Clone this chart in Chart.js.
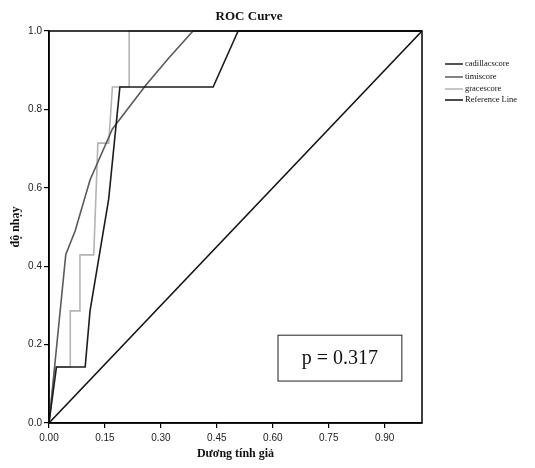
<!DOCTYPE html>
<html>
<head>
<meta charset="utf-8">
<script src="https://cdn.jsdelivr.net/npm/chart.js@4.4.1/dist/chart.umd.min.js"></script>
<style>
  body { margin: 0; background: #fff; }
</style>
</head>
<body>
<canvas id="roc" width="535" height="468"></canvas>
<script>
// ROC points (false positive rate, sensitivity)
const cadillacFpr = [0, 0.02, 0.097, 0.11, 0.16, 0.19, 0.44, 0.507, 1];
const cadillacTpr = [0, 0.143, 0.143, 0.286, 0.571, 0.857, 0.857, 1, 1];

const timiFpr = [0, 0.045, 0.07, 0.11, 0.17, 0.26, 0.32, 0.386, 1];
const timiTpr = [0, 0.43, 0.49, 0.62, 0.75, 0.862, 0.93, 1, 1];

const graceFpr = [0, 0.016, 0.057, 0.057, 0.083, 0.083, 0.12, 0.131, 0.16, 0.17, 0.215, 0.215, 1];
const graceTpr = [0, 0.143, 0.143, 0.286, 0.286, 0.429, 0.429, 0.714, 0.714, 0.857, 0.857, 1, 1];

const refFpr = [0, 1];
const refTpr = [0, 1];

const seriesNames = ["cadillacscore", "timiscore", "gracescore", "Reference Line"];
const xTicks = [0, 0.15, 0.30, 0.45, 0.60, 0.75, 0.90];
const yTicks = [0, 0.2, 0.4, 0.6, 0.8, 1.0];
const pValueText = "p = 0.317";

const toPoints = (xs, ys) => xs.map((x, i) => ({ x: x, y: ys[i] }));

const lineSet = (label, xs, ys, color) => ({
  label: label,
  data: toPoints(xs, ys),
  showLine: true,
  borderColor: color,
  backgroundColor: color,
  borderWidth: 1.6,
  pointRadius: 0,
  tension: 0,
  clip: false,
});

// frame, title, legend and the p value box
const extras = {
  id: "extras",
  afterDatasetsDraw(chart) {
    const { ctx, chartArea } = chart;
    const xs = chart.scales.x;
    const ys = chart.scales.y;
    ctx.save();

    ctx.strokeStyle = "#000";
    ctx.lineWidth = 1.5;
    ctx.strokeRect(chartArea.left, chartArea.top, chartArea.right - chartArea.left, chartArea.bottom - chartArea.top);

    ctx.fillStyle = "#111";
    ctx.font = "bold 13px 'Liberation Serif', serif";
    ctx.textAlign = "center";
    ctx.textBaseline = "middle";
    ctx.fillText("ROC Curve", 249, 17);

    // legend
    ctx.font = "8.5px 'Liberation Serif', serif";
    ctx.textAlign = "left";
    const legendY = [64, 77, 89, 100];
    chart.data.datasets.forEach((ds, i) => {
      ctx.strokeStyle = ds.borderColor;
      ctx.lineWidth = 1.5;
      ctx.beginPath();
      ctx.moveTo(445, legendY[i]);
      ctx.lineTo(463, legendY[i]);
      ctx.stroke();
      ctx.fillStyle = "#111";
      ctx.fillText(ds.label, 465, legendY[i]);
    });

    // p value box
    const bx0 = xs.getPixelForValue(0.614);
    const bx1 = xs.getPixelForValue(0.946);
    const by0 = ys.getPixelForValue(0.224);
    const by1 = ys.getPixelForValue(0.107);
    ctx.fillStyle = "#fff";
    ctx.fillRect(bx0, by0, bx1 - bx0, by1 - by0);
    ctx.strokeStyle = "#222";
    ctx.lineWidth = 1;
    ctx.strokeRect(bx0, by0, bx1 - bx0, by1 - by0);
    ctx.fillStyle = "#111";
    ctx.font = "20px 'Liberation Serif', serif";
    ctx.textAlign = "center";
    ctx.fillText(pValueText, (bx0 + bx1) / 2, (by0 + by1) / 2 + 1);

    ctx.restore();
  },
};

new Chart(document.getElementById("roc"), {
  type: "scatter",
  data: {
    datasets: [
      lineSet(seriesNames[0], cadillacFpr, cadillacTpr, "#1c1c1c"),
      lineSet(seriesNames[1], timiFpr, timiTpr, "#5a5a5a"),
      lineSet(seriesNames[2], graceFpr, graceTpr, "#b4b4b4"),
      lineSet(seriesNames[3], refFpr, refTpr, "#111111"),
    ],
  },
  options: {
    responsive: false,
    animation: false,
    layout: { padding: { top: 31, right: 113, left: 0, bottom: 0 } },
    plugins: {
      legend: { display: false },
      tooltip: { enabled: false },
    },
    scales: {
      x: {
        type: "linear",
        min: 0,
        max: 1,
        afterBuildTicks: (scale) => { scale.ticks = xTicks.map((v) => ({ value: v })); },
        afterFit: (scale) => { scale.height = 45; },
        grid: { drawOnChartArea: false, drawTicks: true, tickLength: 5, color: "#000", lineWidth: 1.2 },
        border: { display: true, color: "#000", width: 1.5 },
        ticks: {
          padding: 4,
          color: "#222",
          font: { family: "'Liberation Sans', Arial, sans-serif", size: 10 },
          callback: (v) => Number(v).toFixed(2),
        },
        title: {
          display: true,
          text: "Dương tính giả",
          color: "#111",
          font: { family: "'Liberation Serif', serif", size: 12, weight: "bold" },
          padding: { top: 2, bottom: 7 },
        },
      },
      y: {
        type: "linear",
        min: 0,
        max: 1,
        afterBuildTicks: (scale) => { scale.ticks = yTicks.map((v) => ({ value: v })); },
        afterFit: (scale) => { scale.width = 49; },
        grid: { drawOnChartArea: false, drawTicks: true, tickLength: 5, color: "#000", lineWidth: 1.2 },
        border: { display: true, color: "#000", width: 1.5 },
        ticks: {
          padding: 2,
          color: "#222",
          font: { family: "'Liberation Sans', Arial, sans-serif", size: 10 },
          callback: (v) => Number(v).toFixed(1),
        },
        title: {
          display: true,
          text: "độ nhạy",
          color: "#111",
          font: { family: "'Liberation Serif', serif", size: 12, weight: "bold" },
          padding: { top: 9, bottom: 0 },
        },
      },
    },
  },
  plugins: [extras],
});
</script>
</body>
</html>
